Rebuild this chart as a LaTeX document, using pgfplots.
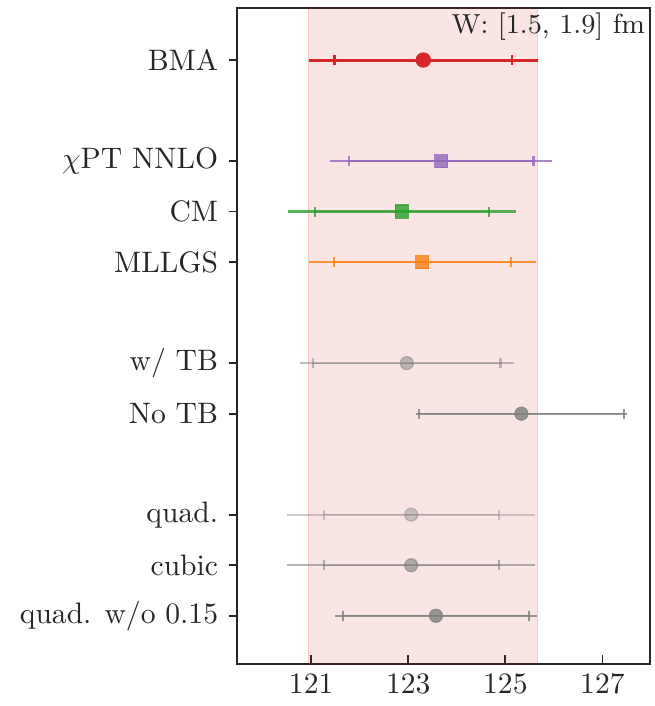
\documentclass[border=0pt]{standalone}
\usepackage{pgfplots}
\pgfplotsset{compat=1.18}
\definecolor{axc}{HTML}{262626}
\definecolor{cred}{HTML}{D62728}
\definecolor{cpur}{HTML}{9467BD}
\definecolor{cgrn}{HTML}{2CA02C}
\definecolor{corg}{HTML}{FF7F0E}
\definecolor{cgry}{HTML}{7F7F7F}
% #1 color, #2 opacity, #3 y, #4 center, #5 outer err, #6 inner err, #7 mark, #8 mark size, #9 line width
\newcommand{\entry}[9]{%
  \addplot[#1, opacity=#2, line width=#9, mark=none, forget plot,
    error bars/.cd, x dir=both, x explicit, error mark=none,
    error bar style={line width=#9}]
    coordinates {(#4,#3) +- (#5,0)};
  \addplot[#1, opacity=#2, line width=#9, mark=none, forget plot,
    error bars/.cd, x dir=both, x explicit, error mark=|,
    error bar style={draw=none},
    error mark options={line width=0.7pt, mark size=1.7pt, draw=#1, draw opacity=#2}]
    coordinates {(#4,#3) +- (#6,0)};
  \addplot[only marks, mark=#7, mark size=#8, draw=#1, fill=#1, opacity=#2, forget plot]
    coordinates {(#4,#3)};
}
\begin{document}
\begin{tikzpicture}
\begin{axis}[name=ax, scale only axis, width=139.4pt, height=221.7pt,
  xmin=119.48, xmax=127.98, ymin=-11.96, ymax=1.03,
  xtick={121,123,125,127},
  ytick={0,-2,-3,-4,-6,-7,-9,-10,-11},
  yticklabels={BMA,$\chi$PT NNLO,CM,MLLGS,w/ TB,No TB,quad.,cubic,quad. w/o 0.15},
  axis line style={line width=0.7pt, draw=axc},
  tick style={draw=axc, line width=0.6pt},
  tick pos=left,
  xtick align=inside, ytick align=outside,
  major tick length=3pt,
  tick label style={font=\normalsize, text=axc},
  clip=true,
]
\addplot[draw=cred, draw opacity=0.15, fill=cred, fill opacity=0.12, forget plot]
  coordinates {(120.94,-13) (125.67,-13) (125.67,2) (120.94,2)} -- cycle;

\entry{cred}{1}{0}{123.31}{2.36}{1.83}{*}{2.4pt}{1pt}
\entry{cpur}{0.8}{-2}{123.68}{2.29}{1.90}{square*}{2.2pt}{0.75pt}
\entry{cgrn}{0.8}{-3}{122.87}{2.35}{1.80}{square*}{2.2pt}{0.75pt}
\entry{corg}{0.8}{-4}{123.29}{2.34}{1.82}{square*}{2.2pt}{0.75pt}
\entry{cgry}{0.5}{-6}{122.97}{2.20}{1.93}{*}{2.2pt}{0.75pt}
\entry{cgry}{0.8}{-7}{125.33}{2.18}{2.11}{*}{2.2pt}{0.75pt}
\entry{cgry}{0.4}{-9}{123.06}{2.55}{1.80}{*}{2.2pt}{0.75pt}
\entry{cgry}{0.6}{-10}{123.06}{2.55}{1.80}{*}{2.2pt}{0.75pt}
\entry{cgry}{0.8}{-11}{123.57}{2.08}{1.92}{*}{2.2pt}{0.75pt}

\node[anchor=north east, font=\fontsize{9.3}{11}\selectfont, text=axc, inner sep=1.5pt] at (rel axis cs:1,1) {W: [1.5, 1.9] fm};
\end{axis}
\path (ax.south west) +(-80.2pt,-14.1pt) (ax.north east) +(1.35pt,2.7pt);
\end{tikzpicture}
\end{document}
